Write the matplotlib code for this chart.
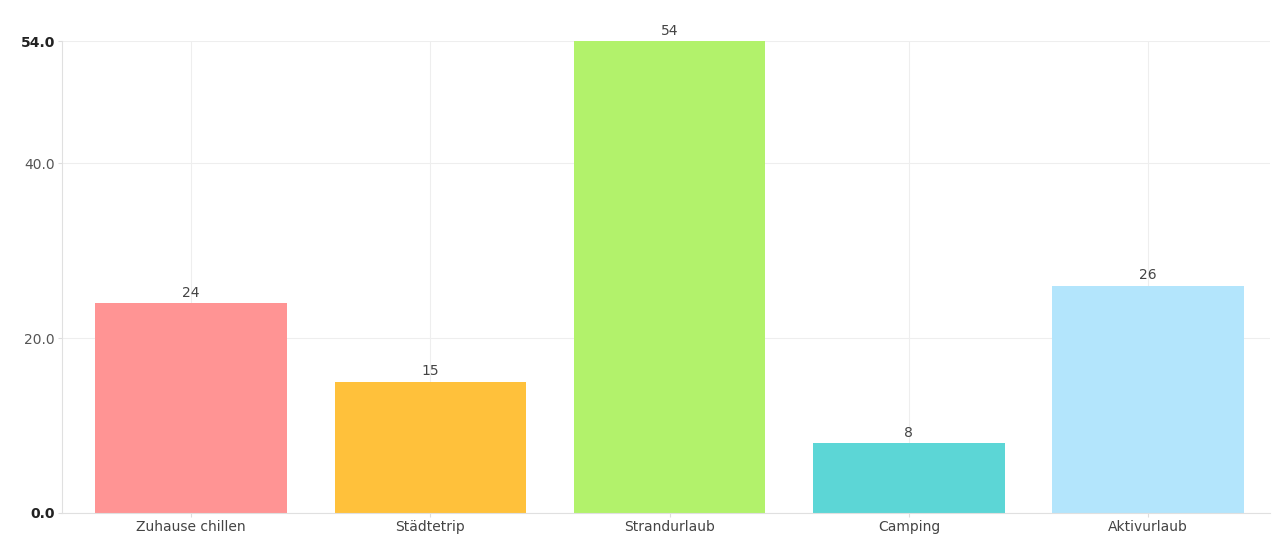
import matplotlib.pyplot as plt

categories = ['Zuhause chillen', 'Städtetrip', 'Strandurlaub', 'Camping', 'Aktivurlaub']
values = [24, 15, 54, 8, 26]
colors = ['#FF9494', '#FFC13B', '#B2F26B', '#5CD6D6', '#B3E5FC']
yticks = [0, 20, 40, 54]

fig = plt.figure(figsize=(12.83, 5.38), dpi=100)
ax = fig.add_axes([0.0483, 0.0465, 0.9417, 0.877])

x = range(len(categories))
bars = ax.bar(x, values, width=0.8, color=colors, zorder=2)
for b, v in zip(bars, values):
    ax.text(b.get_x() + b.get_width() / 2, v + 0.4, str(v), ha='center', va='bottom',
            fontsize=10, color='#444444')

ax.set_xlim(-0.54, 4.51)
ax.set_ylim(0, 54)
ax.set_xticks(list(x))
ax.set_xticklabels(categories, fontsize=10, color='#444444')
ax.set_yticks(yticks)
ax.set_yticklabels(['%.1f' % t for t in yticks], fontsize=10, color='#555555')
for lbl in (ax.get_yticklabels()[0], ax.get_yticklabels()[-1]):
    lbl.set_fontweight('bold')
    lbl.set_color('#222222')

ax.grid(True, color='#EEEEEE', linewidth=0.8, zorder=0)
ax.tick_params(axis='both', length=3, color='#DDDDDD', pad=2)
for side in ('top', 'right'):
    ax.spines[side].set_visible(False)
for side in ('left', 'bottom'):
    ax.spines[side].set_color('#E0E0E0')

fig.savefig('out.png', dpi=100)
